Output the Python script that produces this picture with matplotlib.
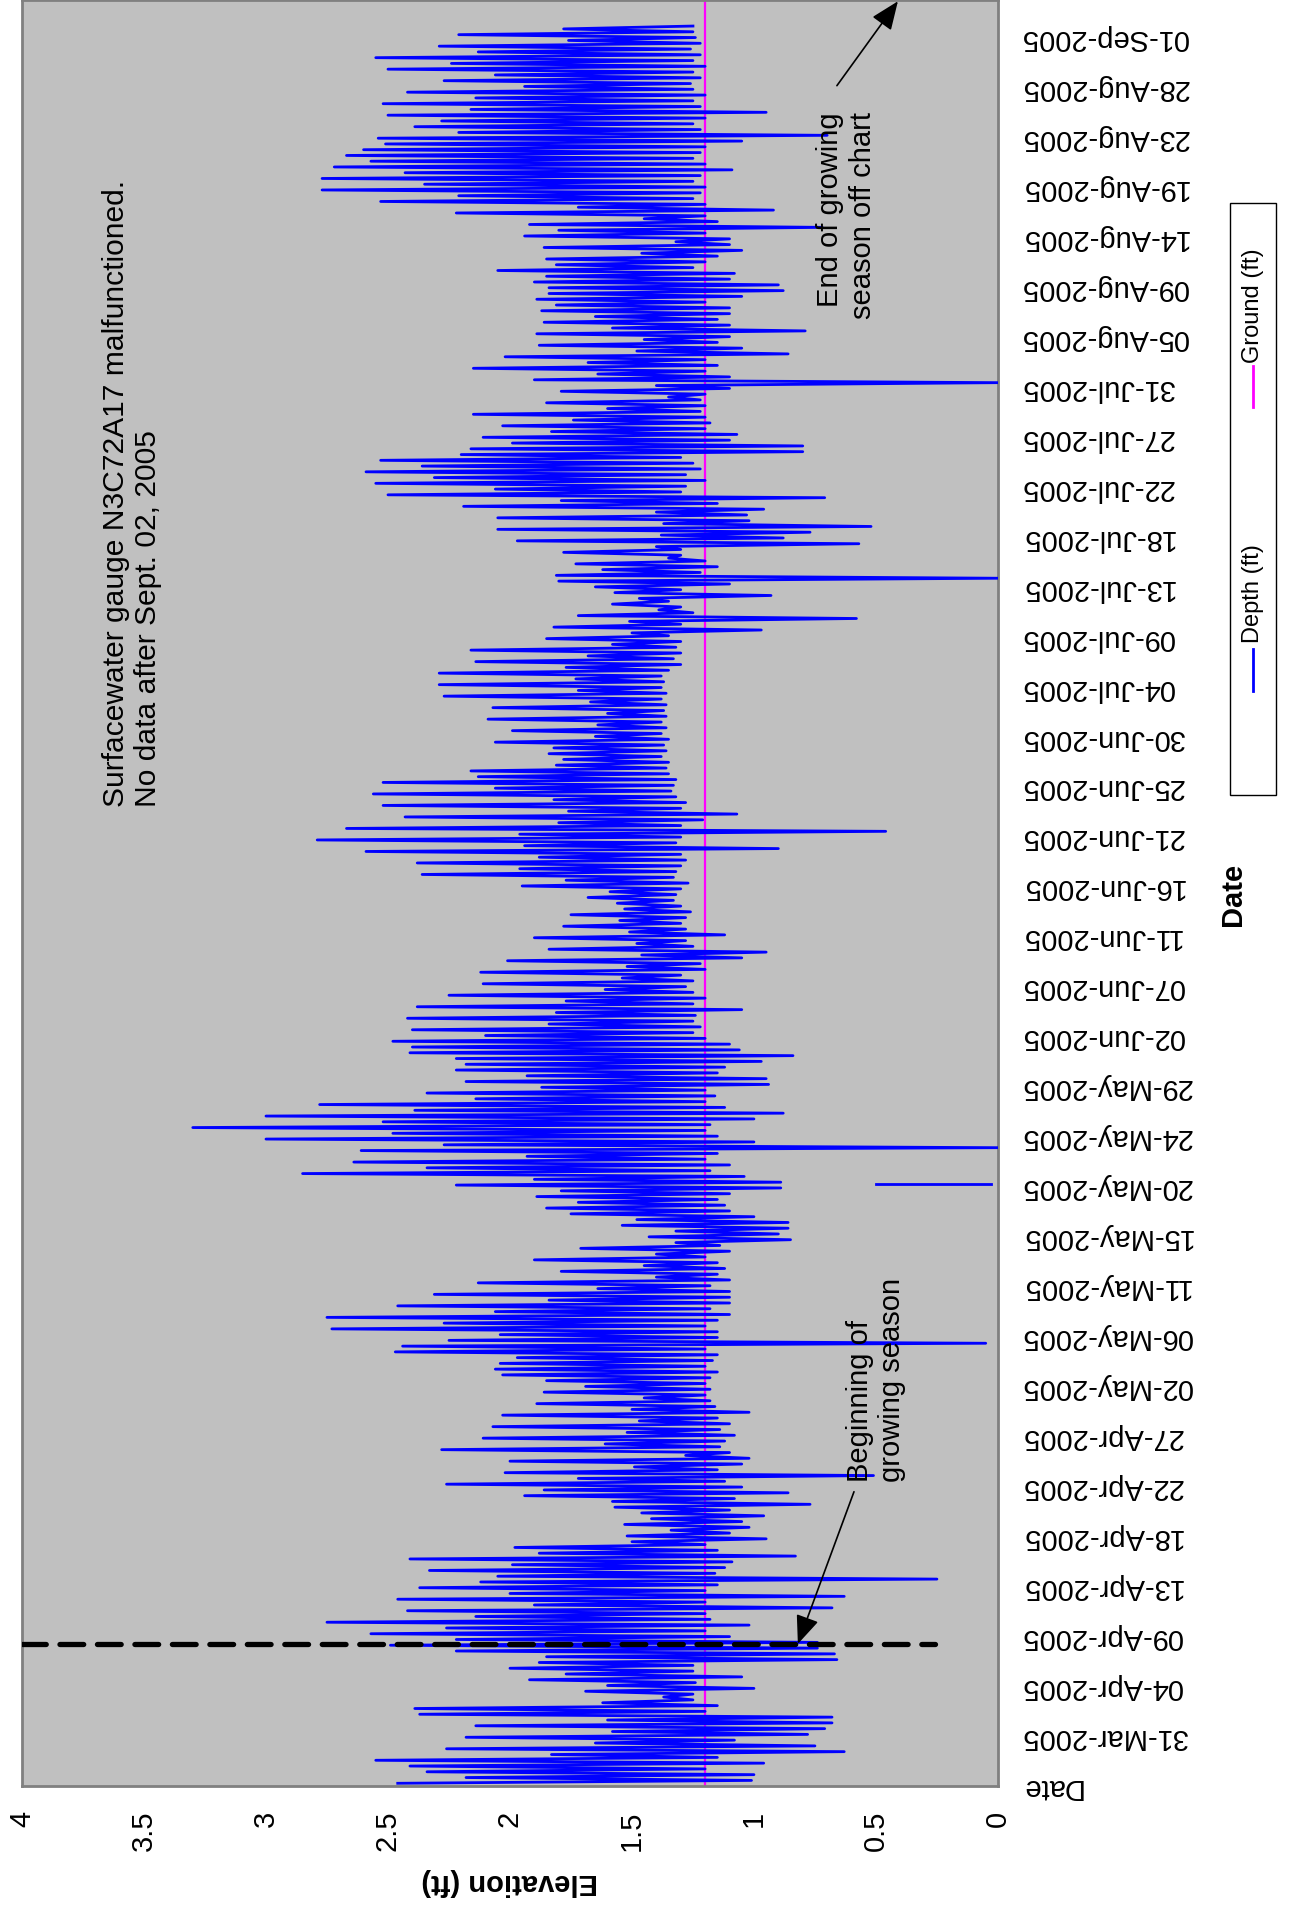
import numpy as np
import matplotlib
matplotlib.use('Agg')
import matplotlib.pyplot as plt
from matplotlib.patches import Rectangle
from matplotlib.lines import Line2D

plt.rcParams['font.family'] = ['Liberation Sans', 'DejaVu Sans']

# date axis: one label every 4.5 days, first category is the "Date" header
date_labels = ["Date", "31-Mar-2005", "04-Apr-2005", "09-Apr-2005", "13-Apr-2005",
               "18-Apr-2005", "22-Apr-2005", "27-Apr-2005", "02-May-2005", "06-May-2005",
               "11-May-2005", "15-May-2005", "20-May-2005", "24-May-2005", "29-May-2005",
               "02-Jun-2005", "07-Jun-2005", "11-Jun-2005", "16-Jun-2005", "21-Jun-2005",
               "25-Jun-2005", "30-Jun-2005", "04-Jul-2005", "09-Jul-2005", "13-Jul-2005",
               "18-Jul-2005", "22-Jul-2005", "27-Jul-2005", "31-Jul-2005", "05-Aug-2005",
               "09-Aug-2005", "14-Aug-2005", "19-Aug-2005", "23-Aug-2005", "28-Aug-2005",
               "01-Sep-2005"]
label_step_days = 4.5
axis_end_day = 160.8

elev_ticks = [0, 0.5, 1, 1.5, 2, 2.5, 3, 3.5, 4]
elev_labels = ["0", "0.5", "1", "1.5", "2", "2.5", "3", "3.5", "4"]

ground_ft = 1.2

# tide highs (ft) in time order
high_ft = [
    # late Mar - mid Apr
    2.46, 2.18, 2.34, 2.41, 2.55, 1.83, 2.26, 1.65, 2.18, 1.58, 2.14, 1.60, 2.37, 2.39, 1.62, 1.37,
    1.69, 1.60, 1.92, 1.77, 2.00, 1.88, 1.85, 2.22, 2.49, 2.22, 2.57, 2.26, 2.75, 2.14, 2.42, 1.90,
    2.46, 2.00, 2.37, 2.12,
    # mid Apr - early May
    2.05, 2.33, 1.99, 2.41, 1.88, 1.98, 1.50, 1.52, 1.34, 1.53, 1.42, 1.46, 1.57, 1.58, 1.94, 1.86,
    2.26, 1.72, 2.02, 1.49, 2.00, 1.28, 2.28, 1.61, 2.11, 1.52, 2.07, 1.47, 2.03, 1.50, 1.89, 1.45,
    1.86, 1.69, 1.85, 2.03, 2.06, 2.04, 1.97,
    # early May - late May
    2.47, 2.44, 2.25, 2.04, 2.73, 2.27, 2.75, 2.06, 2.46, 1.84, 2.31, 1.64, 2.13, 1.40, 1.79, 1.45,
    1.90, 1.40, 1.71, 1.32, 1.43, 1.32, 1.54, 1.48, 1.75, 1.85, 1.72, 1.89, 1.79, 2.22, 1.90, 2.85,
    2.34, 2.64, 1.93, 2.61, 2.27, 3.00, 2.48,
    # late May - mid Jun
    3.30, 2.52, 3.00, 2.39, 2.78, 2.14, 2.34, 1.87, 2.18, 1.93, 2.22, 2.18, 2.22, 2.41, 2.40, 2.48,
    2.10, 2.40, 1.84, 2.42, 1.81, 2.38, 1.77, 2.25, 1.61, 2.11, 1.54, 2.12, 1.52, 2.01, 1.46, 1.84,
    1.48, 1.90, 1.51, 1.78, 1.55, 1.75, 1.53,
    # mid Jun - early Jul
    1.56, 1.68, 1.59, 1.95, 1.77, 2.36, 1.96, 2.38, 1.88, 2.59, 1.94, 2.79, 1.96, 2.67, 1.80, 2.43,
    1.76, 2.52, 1.82, 2.56, 2.06, 2.52, 2.13, 2.16, 1.81, 1.78, 1.84, 1.82, 2.06, 1.65, 1.99, 1.64,
    2.09, 1.60, 2.07, 1.67, 2.27, 1.72, 2.29, 1.73,
    # early Jul - late Jul
    2.29, 1.77, 2.14, 1.68, 2.16, 1.58, 1.85, 1.50, 1.82, 1.51, 1.72, 1.39, 1.58, 1.47, 1.57, 1.65,
    1.80, 1.81, 1.62, 1.73, 1.35, 1.78, 1.40, 1.97, 1.38, 2.05, 1.37, 2.05, 1.40, 2.19, 1.79, 2.50,
    2.06, 2.55, 2.31, 2.59, 2.36, 2.53, 2.20,
    # late Jul - mid Aug
    2.16, 1.99, 2.11, 1.83, 2.03, 1.74, 2.15, 1.60, 1.85, 1.35, 1.79, 1.40, 1.90, 1.64, 2.15, 1.68,
    2.02, 1.48, 1.88, 1.45, 1.89, 1.58, 1.86, 1.65, 1.87, 1.81, 1.89, 1.84, 1.84, 1.90, 1.85, 2.05,
    1.81, 1.85, 1.46, 1.86, 1.32, 1.94, 1.80,
    # mid Aug - 02 Sep
    1.92, 1.45, 2.22, 1.72, 2.53, 2.21, 2.77, 2.35, 2.77, 2.43, 2.72, 2.57, 2.67, 2.60, 2.51, 2.54,
    2.21, 2.39, 2.28, 2.50, 2.16, 2.52, 2.14, 2.42, 1.94, 2.27, 2.06, 2.50, 2.24, 2.55, 2.13, 2.29,
    1.76, 2.21, 1.78,
]

# tide lows (ft), one after each high
low_ft = [
    1.01, 1.00, 1.20, 0.96, 1.15, 0.63, 0.75, 1.08, 0.78, 0.71, 0.68, 0.68, 1.20, 1.15, 1.25, 1.25,
    1.00, 1.24, 1.05, 1.25, 1.25, 0.66, 0.67, 0.74, 0.74, 1.10, 1.20, 1.02, 1.18, 1.20, 0.68, 1.20,
    0.63, 1.20, 1.15, 0.25,
    1.16, 1.12, 1.09, 0.83, 1.15, 1.20, 0.95, 1.10, 1.02, 1.05, 0.96, 1.10, 0.77, 1.08, 0.86, 1.05,
    1.12, 0.51, 1.15, 1.05, 1.02, 1.10, 1.14, 1.12, 1.08, 1.14, 1.10, 1.15, 1.02, 1.16, 1.18, 1.20,
    1.18, 1.20, 1.18, 1.15, 1.20, 1.17, 1.15,
    1.20, 0.05, 1.15, 1.15, 1.20, 1.15, 1.10, 1.18, 1.10, 1.10, 1.10, 1.18, 1.10, 1.15, 1.12, 1.15,
    1.20, 1.10, 1.14, 0.85, 0.90, 0.86, 0.86, 1.00, 1.10, 1.12, 1.15, 1.10, 0.89, 0.89, 1.04, 1.18,
    1.10, 1.20, 1.15, 0.00, 1.00, 1.15, 1.20,
    1.18, 1.00, 0.88, 1.12, 1.20, 1.16, 1.20, 0.94, 0.95, 1.15, 1.12, 0.97, 0.84, 1.06, 1.10, 1.20,
    1.25, 1.22, 1.25, 1.24, 1.05, 1.25, 1.20, 1.25, 1.28, 1.25, 1.30, 1.20, 1.22, 1.05, 0.95, 1.25,
    1.28, 1.12, 1.28, 1.30, 1.28, 1.26, 1.30,
    1.33, 1.32, 1.30, 1.27, 1.33, 1.32, 1.30, 1.28, 1.30, 0.90, 1.32, 1.30, 0.46, 1.30, 1.21, 1.07,
    1.30, 1.28, 1.32, 1.34, 1.33, 1.32, 1.35, 1.36, 1.35, 1.38, 1.36, 1.37, 1.35, 1.38, 1.36, 1.38,
    1.36, 1.37, 1.36, 1.38, 1.36, 1.38, 1.37, 1.38,
    1.35, 1.30, 1.33, 1.30, 1.32, 1.30, 1.35, 0.97, 1.30, 0.58, 1.25, 1.30, 1.35, 0.93, 1.30, 1.10,
    0.00, 1.22, 1.15, 1.20, 1.30, 1.30, 0.57, 0.88, 0.77, 0.52, 1.02, 1.03, 0.96, 1.15, 0.71, 1.30,
    1.28, 1.20, 1.28, 1.22, 1.25, 1.30, 0.80,
    0.80, 1.10, 1.07, 1.20, 1.18, 1.20, 1.22, 1.20, 1.22, 1.20, 1.10, 0.00, 1.10, 1.20, 1.15, 1.20,
    0.86, 1.05, 1.15, 1.10, 0.79, 1.10, 1.15, 1.10, 1.10, 1.20, 1.05, 0.88, 0.90, 1.10, 1.08, 1.25,
    1.20, 1.15, 1.05, 1.10, 1.10, 1.20, 0.72,
    1.15, 1.20, 0.92, 1.20, 1.25, 1.22, 1.20, 1.25, 1.22, 1.09, 1.20, 1.25, 1.22, 1.20, 1.05, 0.70,
    1.22, 1.25, 1.20, 0.95, 1.22, 1.25, 1.20, 1.25, 1.26, 1.22, 1.25, 1.20, 1.25, 1.22, 1.26, 1.22,
    1.24, 1.25, 1.25,
]
first_high_day = 0.25
tide_period_days = 0.5179

# short broken piece of the record near 20-May
gap_day = 54.2
gap_ft = [0.50, 0.03]

# beginning of growing season marker
season_start_day = 12.8
season_line_ft = [4.0, 0.26]

# build the depth series (high, low, high, low ...)
n = len(high_ft)
t_high = first_high_day + np.arange(n) * tide_period_days
t = np.empty(2 * n)
t[0::2] = t_high
t[1::2] = t_high + tide_period_days / 2
depth = np.empty(2 * n)
depth[0::2] = high_ft
depth[1::2] = low_ft

fig = plt.figure(figsize=(12.93, 19.06), dpi=100)
ax = fig.add_axes([0.017, 0.0624, 0.7548, 0.937])
ax.set_facecolor('#C0C0C0')

# chart is drawn turned a quarter turn: elevation runs right-to-left, dates bottom-to-top
ax.axvline(ground_ft, color='#FF00FF', lw=1.6, zorder=2)
ax.plot(depth, t, color='#0000FF', lw=2.0, zorder=3)
ax.plot(gap_ft, [gap_day, gap_day], color='#0000FF', lw=2.0, zorder=3)
ax.plot(season_line_ft, [season_start_day, season_start_day], color='black', lw=3.8,
        dashes=(4.5, 2.6), dash_capstyle='round', zorder=4)

ax.set_xlim(4, 0)
ax.set_ylim(0, axis_end_day)

for s in ax.spines.values():
    s.set_color('#808080')
    s.set_linewidth(2)

ax.set_xticks(elev_ticks, elev_labels, rotation=90, fontsize=21)
ax.tick_params(axis='x', length=0, pad=17)

ax.yaxis.tick_right()
pos = [i * label_step_days for i in range(len(date_labels))]
ax.set_yticks(pos, date_labels, rotation=180, fontsize=21)
for lab in ax.get_yticklabels():
    lab.set_ha('left')
    lab.set_va('center')
ax.tick_params(axis='y', length=0, pad=16)

ax.set_xlabel('Elevation (ft)', fontsize=21, fontweight='bold', rotation=180, va='center')
ax.xaxis.set_label_coords(0.5, -0.0533)
ax.yaxis.set_label_position('right')
ax.set_ylabel('Date', fontsize=21, fontweight='bold', rotation=90, va='center', ha='center')
ax.yaxis.set_label_coords(1.2409, 0.5)

# annotations
ax.text(3.55, 88.2, 'Surfacewater gauge N3C72A17 malfunctioned.\nNo data after Sept. 02, 2005',
        rotation=90, ha='center', va='bottom', multialignment='left', fontsize=21.6)
ax.text(0.50, 27.5, 'Beginning of\ngrowing season', rotation=90, ha='center', va='bottom',
        multialignment='left', fontsize=21)
ax.text(0.62, 150.8, 'End of growing\nseason off chart', rotation=90, ha='center', va='top',
        multialignment='right', fontsize=21)

arrow = dict(arrowstyle='-|>,head_length=1.1,head_width=0.45', color='black', lw=1.2,
             mutation_scale=16, shrinkA=0, shrinkB=0)
ax.annotate('', xy=(0.82, season_start_day), xytext=(0.59, 26.5), arrowprops=arrow)
ax.annotate('', xy=(0.41, axis_end_day - 0.1), xytext=(0.66, 153.1), arrowprops=arrow,
            annotation_clip=False)

# legend box, drawn turned like the rest of the chart
fig.add_artist(Rectangle((0.9513, 0.5824), 0.0356, 0.3106, transform=fig.transFigure,
                         facecolor='white', edgecolor='black', lw=1))
fig.add_artist(Line2D([0.9691, 0.9691], [0.6369, 0.6590], transform=fig.transFigure,
                      color='#0000FF', lw=2))
fig.text(0.9691, 0.6626, 'Depth (ft)', rotation=90, ha='center', va='bottom', fontsize=17)
fig.add_artist(Line2D([0.9691, 0.9691], [0.7859, 0.8074], transform=fig.transFigure,
                      color='#FF00FF', lw=2))
fig.text(0.9691, 0.8096, 'Ground (ft)', rotation=90, ha='center', va='bottom', fontsize=17)

fig.savefig('out.png', dpi=100, facecolor='white')
